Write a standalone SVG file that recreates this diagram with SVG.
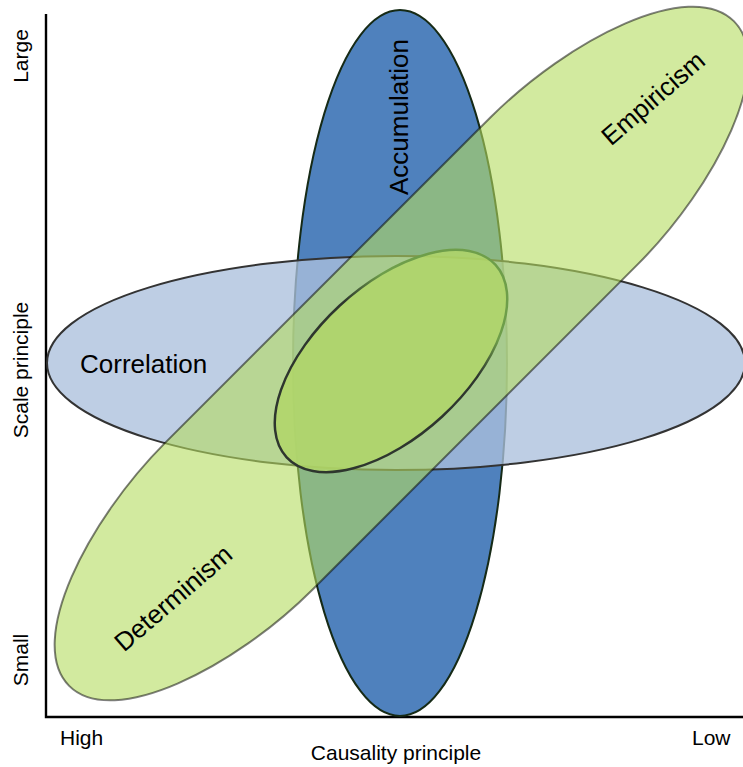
<svg xmlns="http://www.w3.org/2000/svg" width="743" height="767" viewBox="0 0 743 767">
<defs>
<style>
text { font-family: "Liberation Sans", Arial, sans-serif; fill: #000; }
.axis-label { font-size: 21px; }
.node-label { font-size: 26px; }
.axis { stroke: #000; stroke-width: 2.4; fill: none; }
.accum { fill: #4F81BD; stroke: #162A16; stroke-width: 2; }
.corr { fill: #ACC0DC; fill-opacity: 0.78; stroke: #333; stroke-width: 2; }
.emp { fill: #B4DC5F; fill-opacity: 0.6; stroke: #000; stroke-opacity: 0.5; stroke-width: 2; }
.core { fill: #B0D668; fill-opacity: 0.85; stroke: url(#coreStroke); stroke-width: 2.5; }
</style>
<linearGradient id="coreStroke" gradientUnits="userSpaceOnUse" x1="416" y1="343" x2="456" y2="330">
<stop offset="0" stop-color="#2E362E"/>
<stop offset="1" stop-color="#6E9E4A"/>
</linearGradient>
</defs>
<rect width="743" height="767" fill="#fff"/>
<g id="axes">
<path class="axis" d="M46,14 V717 H743"/>
<text class="axis-label" transform="translate(28,56) rotate(-90)" text-anchor="middle">Large</text>
<text class="axis-label" transform="translate(28,370) rotate(-90)" text-anchor="middle">Scale principle</text>
<text class="axis-label" transform="translate(28,660) rotate(-90)" text-anchor="middle">Small</text>
<text class="axis-label" x="60" y="745">High</text>
<text class="axis-label" x="692" y="745">Low</text>
<text class="axis-label" x="396" y="760" text-anchor="middle">Causality principle</text>
</g>
<g id="accumulation">
<ellipse class="accum" cx="400" cy="363" rx="107" ry="353"/>
<text class="node-label" transform="translate(408,117) rotate(-90)" text-anchor="middle">Accumulation</text>
</g>
<g id="correlation">
<ellipse class="corr" cx="396" cy="363" rx="349" ry="107"/>
<text class="node-label" x="80" y="373">Correlation</text>
</g>
<g id="empiricism-determinism">
<path class="emp" transform="translate(401.5,353.5) rotate(-45)" d="M-230,-104 L230,-104 C340,-104 470,-62 470,0 C470,62 340,104 230,104 L-230,104 C-340,104 -470,62 -470,0 C-470,-62 -340,-104 -230,-104 Z"/>
<text class="node-label" transform="translate(659,105) rotate(-41)" text-anchor="middle">Empiricism</text>
<text class="node-label" transform="translate(179,605) rotate(-41)" text-anchor="middle">Determinism</text>
</g>
<g id="core">
<ellipse class="core" cx="391" cy="361" rx="142" ry="75.5" transform="rotate(-42.7 391 361)"/>
</g>
</svg>
